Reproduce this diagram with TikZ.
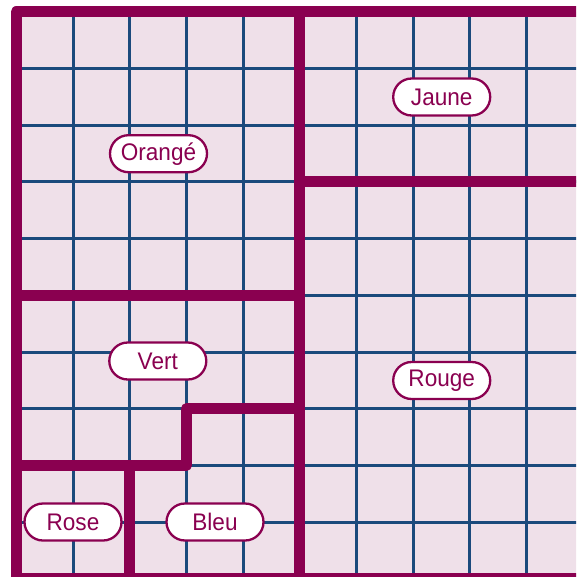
\documentclass[tikz,border=0pt]{standalone}
\usepackage{fontspec}
\setmainfont{Liberation Sans}
\newfontfamily\lblfont[FakeStretch=0.94]{Liberation Sans}
\definecolor{plum}{HTML}{8A0050}
\definecolor{gridblue}{HTML}{1B4A7C}
\definecolor{bgpink}{HTML}{EFE0E9}
\begin{document}
\begin{tikzpicture}[x=1pt,y=-1pt,
  gridline/.style={gridblue, line width=3pt},
  wall/.style={plum, line width=11pt, line join=round},
  lbl/.style={draw=plum, line width=2.3pt, fill=white, text=plum,
    rounded corners=18.5pt, minimum width=97pt, minimum height=37pt,
    inner sep=0pt, font=\lblfont\fontsize{24}{28}\selectfont}]
\useasboundingbox (0,0) rectangle (576,577);
\clip (0,0) rectangle (576,577);
% background
\fill[bgpink] (16.3,11.8) rectangle (600,590);
% thin grid
\foreach \i in {1,...,10} {
  \draw[gridline] ({16.3+56.7*\i},11.8) -- ({16.3+56.7*\i},578.8);
  \draw[gridline] (16.3,{11.8+56.7*\i}) -- (600,{11.8+56.7*\i});
}
% thick walls
\draw[wall] (600,11.8) -- (16.3,11.8) -- (16.3,578.8) -- (600,578.8);
\draw[wall] (299.8,11.8) -- (299.8,578.8);
\draw[wall] (299.8,181.9) -- (600,181.9);
\draw[wall] (16.3,295.3) -- (299.8,295.3);
\draw[wall] (16.3,465.4) -- (186.4,465.4) -- (186.4,408.7) -- (299.8,408.7);
\draw[wall] (129.7,465.4) -- (129.7,578.8);
% labels
\node[lbl] (jaune)  at (441.7,97)    {Jaune};
\node[lbl] (orange) at (158.5,153.7) {Orangé};
\node[lbl] (vert)   at (157.8,361)   {Vert};
\node[lbl] (rouge)  at (441.7,380.5) {Rouge};
\node[lbl] (rose)   at (73,522)      {Rose};
\node[lbl] (bleu)   at (215,522)     {Bleu};
\end{tikzpicture}
\end{document}
